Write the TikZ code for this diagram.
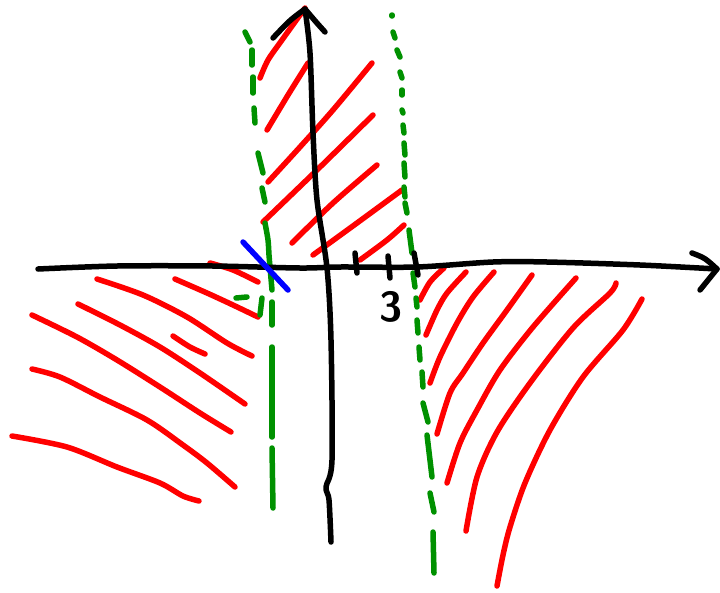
\documentclass[tikz,border=0pt]{standalone}
\usepackage{tikz}
\usetikzlibrary{calc}
\definecolor{penred}{RGB}{255,0,0}
\definecolor{pengreen}{RGB}{0,145,0}
\definecolor{penblue}{RGB}{0,0,255}
\tikzset{
  pen/.style      = {line width=5.5pt, line cap=round, line join=round},
  axis/.style     = {pen, black},
  hatch/.style    = {pen, penred},
  asym/.style     = {pen, pengreen},
  crossout/.style = {pen, penblue},
}

\begin{document}
\begin{tikzpicture}[x=1pt,y=-1pt]
\useasboundingbox (0,0) rectangle (720,592);
% shaded strips
\draw[hatch] plot[smooth] coordinates {(260,78) (268,60) (282,40) (305,8)};
\draw[hatch] plot[smooth] coordinates {(267,130) (288,95) (308,63)};
\draw[hatch] plot[smooth] coordinates {(268,182) (300,147) (333,110) (372,63)};
\draw[hatch] plot[smooth] coordinates {(263,222) (317,170) (373,115)};
\draw[hatch] plot[smooth] coordinates {(292,243) (333,203) (377,165)};
\draw[hatch] plot[smooth] coordinates {(313,255) (357,223) (402,190)};
\draw[hatch] plot[smooth] coordinates {(360,260) (387,240) (404,225)};
\draw[hatch] plot[smooth] coordinates {(210,263) (233,270) (258,282)};
\draw[hatch] plot[smooth] coordinates {(175,279) (207,293) (233,305) (258,317)};
\draw[hatch] plot[smooth] coordinates {(97,279) (143,295) (187,317) (227,343) (252,356)};
\draw[hatch] plot[smooth] coordinates {(78,304) (120,325) (160,347) (200,373) (245,404)};
\draw[hatch] plot[smooth] coordinates {(173,336) (190,347) (205,354)};
\draw[hatch] plot[smooth] coordinates {(32,315) (77,337) (117,360) (160,387) (200,413) (231,432)};
\draw[hatch] plot[smooth] coordinates {(32,369) (60,377) (100,397) (147,420) (183,445) (207,463) (235,487)};
\draw[hatch] plot[smooth] coordinates {(12,436) (67,447) (117,467) (160,483) (183,496) (199,501)};
\draw[hatch] plot[smooth] coordinates {(444,268) (430,282) (420,300)};
\draw[hatch] plot[smooth] coordinates {(466,272) (447,293) (437,310) (426,335)};
\draw[hatch] plot[smooth] coordinates {(494,272) (473,297) (457,323) (440,357) (430,383)};
\draw[hatch] plot[smooth] coordinates {(532,275) (507,310) (483,343) (463,373) (450,393) (437,434)};
\draw[hatch] plot[smooth] coordinates {(576,278) (533,327) (500,370) (477,410) (460,443) (447,483)};
\draw[hatch] plot[smooth] coordinates {(616,283) (610,293) (573,328) (530,383) (497,432) (477,477) (466,531)};
\draw[hatch] plot[smooth] coordinates {(642,299) (623,330) (583,377) (550,430) (525,483) (510,527) (503,555) (497,586)};
% asymptotes
\foreach \xa/\ya/\xb/\yb in {245/32/250/42, 252/50/252/65, 253/77/253/93, 254/108/255/123,
    258/153/263/173, 262/188/265/202, 272/302/272/325, 272/347/272/437, 272/448/273/508,
    262/298/260/315, 236/298/247/297}
  \draw[asym] (\xa,\ya) -- (\xb,\yb);
\draw[asym] plot[smooth] coordinates {(265,223) (268,240) (269,255) (270,267) (272,290)};
\foreach \xa/\ya/\xb/\yb in {392/15/392/16, 393/32/395/38, 397/50/400/57, 400/72/402/78,
    402/90/402/95, 402/110/403/113, 403/125/404/133, 404/143/405/155, 404/163/405/177,
    404/187/405/197, 405/203/407/213, 409/230/412/253, 413/273/415/287, 416/298/417/307,
    417/320/418/333, 419/347/420/360, 422/372/423/387, 423/403/428/422, 427/435/432/477,
    430/493/434/512, 433/532/434/573}
  \draw[asym] (\xa,\ya) -- (\xb,\yb);
% axes
\coordinate (xtip) at (717,269);
\coordinate (ytip) at (305,9);
\draw[axis] plot[smooth] coordinates {(38,269) (117,266) (213,266) (300,268) (340,267)
  (417,267) (493,262) (547,262) (640,265) (xtip)};
\draw[axis] (692,253) .. controls (705,258) .. (xtip) .. controls (708,280) .. (700,290);
\draw[axis] plot[smooth] coordinates {(331,542) (329,500) (326,487) (332,460) (331,340)
  (327,268) (317,200) (313,133) (310,53) (ytip)};
\draw[axis] (273,38) .. controls (290,20) .. (ytip) .. controls (316,22) .. (325,32);
\foreach \xa/\ya/\xb/\yb in {355/253/357/273, 388/256/390/278, 414/253/418/275}
  \draw[axis] (\xa,\ya) -- (\xb,\yb);
\node[font=\fontsize{42}{42}\selectfont\sffamily\bfseries] (three) at (391,307) {3};
% removed point
\draw[crossout] (243,242) -- (288,290);
\end{tikzpicture}
\end{document}
